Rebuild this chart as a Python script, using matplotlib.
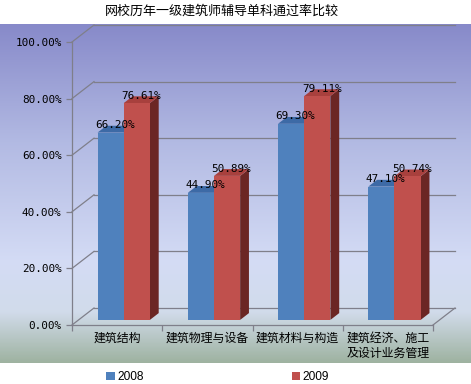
import numpy as np
import matplotlib
matplotlib.use("Agg")
import matplotlib.pyplot as plt
from matplotlib.patches import Polygon, Patch
from matplotlib.colors import LinearSegmentedColormap

plt.rcParams['font.family'] = ['Noto Sans CJK SC', 'DejaVu Sans']

title = "网校历年一级建筑师辅导单科通过率比较"
categories = ["建筑结构", "建筑物理与设备", "建筑材料与构造", "建筑经济、施工\n及设计业务管理"]
series_names = ["2008", "2009"]
values_2008 = [66.20, 44.90, 69.30, 47.10]
values_2009 = [76.61, 50.89, 79.11, 50.74]
yticks = [0, 20, 40, 60, 80, 100]

W, H = 471, 384
fig = plt.figure(figsize=(W / 100, H / 100), dpi=100)
fig.patch.set_facecolor("white")

# background gradient of the chart area
bg = fig.add_axes([0, 1 - 363 / H, 1, (363 - 24) / H], zorder=-5)
bg.set_axis_off()
cmap = LinearSegmentedColormap.from_list("bg", [
    (0.0, (0.53, 0.54, 0.79)),
    (0.35, (0.70, 0.73, 0.89)),
    (0.70, (0.83, 0.86, 0.96)),
    (0.85, (0.82, 0.86, 0.92)),
    (1.0, (0.62, 0.70, 0.63)),
])
grad = np.linspace(0, 1, 256).reshape(-1, 1)
bg.imshow(grad, aspect="auto", cmap=cmap, extent=[0, 1, 0, 1], origin="upper")
bg.set_xlim(0, 1); bg.set_ylim(0, 1)

# main axes = front plane
x0, x1, yb, yt = 72, 433, 325, 42
ax = fig.add_axes([x0 / W, 1 - yb / H, (x1 - x0) / W, (yb - yt) / H])
ax.patch.set_visible(False)
ax.set_xlim(-0.5, 3.5)
ax.set_ylim(0, 100)

DX = 22 / ((x1 - x0) / 4)   # depth offset in data x units
DY = 17 / ((yb - yt) / 100)  # depth offset in data y units
grid_c = "#7f7f8a"

# back wall gridlines + left-wall diagonals
for t in yticks:
    ax.plot([-0.5 + DX, 3.5 + DX], [t + DY, t + DY], color=grid_c, lw=0.9, clip_on=False, zorder=1)
    ax.plot([-0.5, -0.5 + DX], [t, t + DY], color=grid_c, lw=0.9, clip_on=False, zorder=1)
# floor right diagonal
ax.plot([3.5, 3.5 + DX], [0, DY], color=grid_c, lw=0.9, clip_on=False, zorder=1)

# bars
bw = 0.29
f0, f1 = 0.3, 0.7
styles = [
    dict(front="#4F81BD", top="#3D6AA6", side="#2A4B78"),
    dict(front="#C0504D", top="#A8403D", side="#6B2624"),
]
xs = np.arange(len(categories))
for si, vals in enumerate([values_2008, values_2009]):
    st = styles[si]
    for i, v in enumerate(vals):
        l = xs[i] - bw + si * bw
        r = l + bw
        ox0, oy0 = f0 * DX, f0 * DY
        ox1, oy1 = f1 * DX, f1 * DY
        side = Polygon([(r + ox0, oy0), (r + ox1, oy1), (r + ox1, v + oy1), (r + ox0, v + oy0)],
                       closed=True, fc=st["side"], ec="none", clip_on=False, zorder=3 + si)
        top = Polygon([(l + ox0, v + oy0), (r + ox0, v + oy0), (r + ox1, v + oy1), (l + ox1, v + oy1)],
                      closed=True, fc=st["top"], ec="none", clip_on=False, zorder=3 + si)
        front = Polygon([(l + ox0, oy0), (r + ox0, oy0), (r + ox0, v + oy0), (l + ox0, v + oy0)],
                        closed=True, fc=st["front"], ec="none", clip_on=False, zorder=3 + si)
        for p in (side, top, front):
            ax.add_patch(p)
        ax.text((l + r) / 2 + 0.5 * DX, v + 0.5 * DY + 1.4, f"{v:.2f}%", ha="center", va="center",
                fontsize=7.9, family="DejaVu Sans Mono", color="black", zorder=10)

# axes styling
for s in ("top", "right"):
    ax.spines[s].set_visible(False)
for s in ("left", "bottom"):
    ax.spines[s].set_color(grid_c)
    ax.spines[s].set_linewidth(0.9)
ax.set_yticks(yticks)
ax.set_yticklabels([f"{t:.2f}%" for t in yticks], family="DejaVu Sans Mono", fontsize=7.9)
ax.tick_params(axis="y", length=4, width=0.9, color=grid_c, pad=3.5)
ax.set_xticks(xs)
ax.set_xticklabels(categories, fontsize=8.6, linespacing=1.2, va="top")
ax.set_xticks([-0.5, 0.5, 1.5, 2.5, 3.5], minor=True)
ax.tick_params(axis="x", which="major", length=0, pad=5)
ax.tick_params(axis="x", which="minor", length=4, width=0.9, color=grid_c)

# title
fig.text(0.47, 1 - 11 / H, title, ha="center", va="center", fontsize=9.4)

# legend
handles = [Patch(fc=styles[0]["front"], ec="none"), Patch(fc=styles[1]["front"], ec="none")]
fig.legend(handles, series_names, loc="center", bbox_to_anchor=(0.462, 1 - 377 / H), ncol=2,
           frameon=False, prop={"family": "Liberation Sans", "size": 8.6},
           handlelength=0.7, handleheight=0.7, handletextpad=0.2, columnspacing=12.4, borderpad=0)

fig.savefig("out.png", dpi=100)
